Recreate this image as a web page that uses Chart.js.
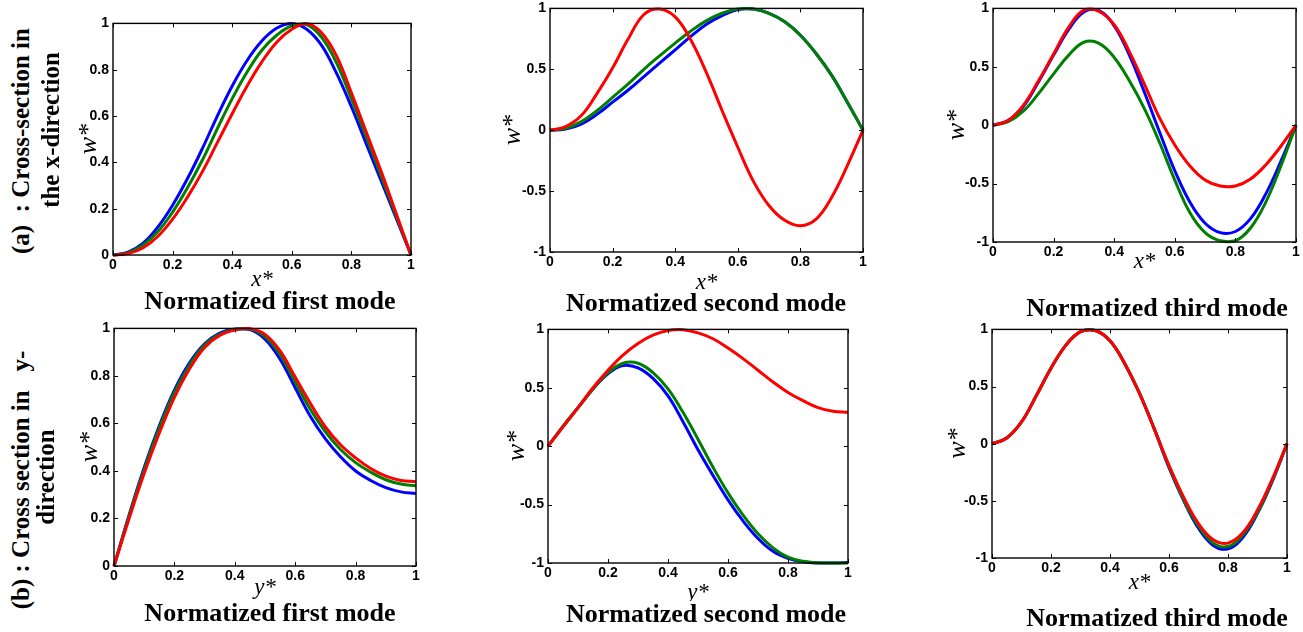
<!DOCTYPE html>
<html>
<head>
<meta charset="utf-8">
<script src="https://cdn.jsdelivr.net/npm/chart.js@4.4.1/dist/chart.umd.min.js"></script>
<style>
  html, body { margin: 0; padding: 0; background: #fff; overflow: hidden; }
  #page { position: relative; width: 1303px; height: 632px; overflow: hidden; }
  .panel { position: absolute; }
  .mode { position: absolute; font: bold 26px "Liberation Serif", "Times New Roman", serif; line-height: 26px;
          white-space: nowrap; transform: translateX(-50%); background: #fff; color: #000; }
  .row { position: absolute; font: bold 25px "Liberation Serif", "Times New Roman", serif; line-height: 25px;
         white-space: pre; transform: translate(-50%, -50%) rotate(-90deg); color: #000; }
</style>
</head>
<body>
<div id="page"></div>
<script>
// sample positions along the normalized coordinate
const xs = [0, 0.05, 0.1, 0.15, 0.2, 0.25, 0.3, 0.35, 0.4, 0.45, 0.5, 0.55, 0.6, 0.65, 0.7, 0.75, 0.8, 0.85, 0.9, 0.95, 1];

// tick labels
const xTicks = [0, 0.2, 0.4, 0.6, 0.8, 1];
const yTicksPos = [0, 0.2, 0.4, 0.6, 0.8, 1];
const yTicksSym = [-1, -0.5, 0, 0.5, 1];

// (a) x-direction, first mode
const a1Blue  = [0, 0.012, 0.05, 0.12, 0.215, 0.33, 0.46, 0.6, 0.73, 0.84, 0.925, 0.98, 1.0, 0.975, 0.905, 0.785, 0.64, 0.48, 0.32, 0.16, 0];
const a1Green = [0, 0.009, 0.042, 0.1, 0.185, 0.29, 0.41, 0.545, 0.675, 0.79, 0.885, 0.95, 0.99, 0.995, 0.94, 0.83, 0.675, 0.51, 0.34, 0.17, 0];
const a1Red   = [0, 0.006, 0.03, 0.08, 0.155, 0.25, 0.36, 0.485, 0.61, 0.73, 0.835, 0.92, 0.975, 1.0, 0.96, 0.86, 0.7, 0.53, 0.36, 0.18, 0];

// (a) x-direction, second mode
const a2Blue  = [0, 0.01, 0.05, 0.13, 0.23, 0.33, 0.44, 0.55, 0.66, 0.77, 0.87, 0.94, 0.99, 0.995, 0.96, 0.89, 0.78, 0.63, 0.45, 0.23, 0];
const a2Green = [0, 0.015, 0.07, 0.16, 0.27, 0.38, 0.5, 0.61, 0.715, 0.815, 0.9, 0.96, 0.995, 0.995, 0.96, 0.89, 0.78, 0.63, 0.45, 0.23, 0];
const a2Red   = [0, 0.03, 0.12, 0.3, 0.51, 0.75, 0.95, 0.995, 0.93, 0.74, 0.47, 0.16, -0.14, -0.42, -0.62, -0.74, -0.785, -0.73, -0.55, -0.29, 0];

// (a) x-direction, third mode
const a3Blue  = [0, 0.04, 0.16, 0.37, 0.6, 0.82, 0.97, 0.98, 0.85, 0.6, 0.28, -0.06, -0.39, -0.66, -0.84, -0.92, -0.91, -0.8, -0.59, -0.31, 0];
const a3Green = [0, 0.03, 0.12, 0.27, 0.44, 0.6, 0.71, 0.7, 0.58, 0.38, 0.14, -0.15, -0.47, -0.75, -0.92, -0.99, -0.99, -0.88, -0.66, -0.35, 0];
const a3Red   = [0, 0.04, 0.17, 0.38, 0.61, 0.84, 0.985, 0.975, 0.86, 0.63, 0.35, 0.06, -0.17, -0.35, -0.47, -0.52, -0.52, -0.46, -0.34, -0.18, 0];

// (b) y-direction, first mode
const b1Blue  = [0, 0.215, 0.415, 0.59, 0.74, 0.855, 0.935, 0.98, 0.998, 0.995, 0.955, 0.87, 0.75, 0.63, 0.535, 0.46, 0.4, 0.36, 0.33, 0.312, 0.305];
const b1Green = [0, 0.21, 0.405, 0.58, 0.73, 0.845, 0.93, 0.975, 0.995, 0.998, 0.965, 0.89, 0.775, 0.66, 0.565, 0.49, 0.435, 0.395, 0.363, 0.345, 0.338];
const b1Red   = [0, 0.2, 0.39, 0.56, 0.71, 0.83, 0.92, 0.97, 0.993, 0.999, 0.975, 0.905, 0.795, 0.685, 0.585, 0.51, 0.455, 0.41, 0.378, 0.36, 0.355];

// (b) y-direction, second mode
const b2Blue  = [0, 0.17, 0.33, 0.49, 0.62, 0.69, 0.67, 0.58, 0.43, 0.21, -0.03, -0.25, -0.46, -0.64, -0.79, -0.9, -0.96, -0.99, -1.0, -1.0, -0.995];
const b2Green = [0, 0.17, 0.33, 0.49, 0.63, 0.71, 0.71, 0.63, 0.49, 0.29, 0.06, -0.18, -0.4, -0.59, -0.75, -0.87, -0.95, -0.985, -0.998, -1.0, -1.0];
const b2Red   = [0, 0.165, 0.33, 0.5, 0.65, 0.78, 0.88, 0.95, 0.99, 0.998, 0.97, 0.92, 0.84, 0.75, 0.65, 0.55, 0.46, 0.39, 0.33, 0.3, 0.29];

// (b) y-direction, third mode
const b3Blue  = [0, 0.05, 0.19, 0.42, 0.66, 0.86, 0.98, 0.99, 0.9, 0.7, 0.44, 0.13, -0.21, -0.5, -0.74, -0.89, -0.92, -0.82, -0.61, -0.33, 0];
const b3Green = [0, 0.05, 0.19, 0.42, 0.66, 0.86, 0.98, 0.99, 0.9, 0.7, 0.44, 0.13, -0.2, -0.49, -0.72, -0.87, -0.9, -0.8, -0.6, -0.32, 0];
const b3Red   = [0, 0.05, 0.19, 0.42, 0.66, 0.86, 0.98, 0.99, 0.9, 0.7, 0.44, 0.13, -0.19, -0.47, -0.7, -0.84, -0.87, -0.78, -0.58, -0.31, 0];

const modeTitles = ['Normatized first mode', 'Normatized second mode', 'Normatized third mode'];
const rowTitles = [['(a)  : Cross-section in', 'the x-direction'], ['(b) : Cross section in   y-', 'direction']];

// layout: plot box [left, top, right, bottom], gaps of axis titles from the box
const panels = [
  { box: [113, 21, 411, 255], yTicks: yTicksPos, xLabel: 'x*', wGap: 24, xGap: 25, lines: [a1Blue, a1Green, a1Red] },
  { box: [550, 6, 863, 252],  yTicks: yTicksSym, xLabel: 'x*', wGap: 37, xGap: 31, lines: [a2Blue, a2Green, a2Red] },
  { box: [993, 6, 1296, 242], yTicks: yTicksSym, xLabel: 'x*', wGap: 36, xGap: 20, lines: [a3Blue, a3Green, a3Red] },
  { box: [114, 326, 416, 566], yTicks: yTicksPos, xLabel: 'y*', wGap: 24, xGap: 22, lines: [b1Blue, b1Green, b1Red] },
  { box: [548, 327, 848, 563], yTicks: yTicksSym, xLabel: 'y*', wGap: 31, xGap: 30, lines: [b2Blue, b2Green, b2Red] },
  { box: [992, 327, 1287, 558], yTicks: yTicksSym, xLabel: 'x*', wGap: 34, xGap: 25, lines: [b3Blue, b3Green, b3Red] }
];
const titlePos = [[270, 310], [706, 312], [1157, 317], [270, 622], [706, 623], [1157, 627]];
const rowPos = [[[20, 141], [50, 130]], [[20, 480], [45, 477]]];

const colors = ['#0000ff', '#008000', '#ff0000'];
const YW = 50, XH = 50, PT = 10, PR = 14;
const tickFont = { family: '"Liberation Sans", Arial, sans-serif', size: 14, weight: 'bold' };
const fmt = v => String(Math.round(v * 100) / 100);

// box round the plot and inward tick marks on all four sides
const boxTicks = {
  id: 'boxTicks',
  afterDatasetsDraw(chart) {
    const { ctx, chartArea: a, scales: { x, y } } = chart;
    ctx.save();
    ctx.strokeStyle = '#000';
    ctx.lineWidth = 1;
    ctx.beginPath();
    x.ticks.forEach(t => {
      const px = Math.round(x.getPixelForValue(t.value)) + 0.5;
      ctx.moveTo(px, a.bottom); ctx.lineTo(px, a.bottom - 4);
      ctx.moveTo(px, a.top); ctx.lineTo(px, a.top + 4);
    });
    y.ticks.forEach(t => {
      const py = Math.round(y.getPixelForValue(t.value)) + 0.5;
      ctx.moveTo(a.left, py); ctx.lineTo(a.left + 4, py);
      ctx.moveTo(a.right, py); ctx.lineTo(a.right - 4, py);
    });
    ctx.stroke();
    ctx.lineWidth = 1.4;
    ctx.strokeRect(a.left, a.top, a.right - a.left, a.bottom - a.top);
    ctx.restore();
  }
};

const page = document.getElementById('page');
const pts = ys => xs.map((x, i) => ({ x: x, y: ys[i] }));

panels.forEach(p => {
  const [l, t, r, b] = p.box;
  const w = r - l + YW + PR, h = b - t + PT + XH;
  const div = document.createElement('div');
  div.className = 'panel';
  div.style.left = (l - YW) + 'px';
  div.style.top = (t - PT) + 'px';
  const cv = document.createElement('canvas');
  cv.width = w; cv.height = h;
  cv.style.width = w + 'px'; cv.style.height = h + 'px';
  div.appendChild(cv);
  page.appendChild(div);

  new Chart(cv.getContext('2d'), {
    type: 'line',
    data: {
      datasets: p.lines.map((ys, i) => ({
        data: pts(ys),
        borderColor: colors[i],
        borderWidth: 3,
        pointRadius: 0,
        fill: false,
        clip: false,
        tension: 0.4,
        order: 2 - i
      }))
    },
    options: {
      responsive: false,
      animation: false,
      devicePixelRatio: 1,
      layout: { padding: { left: 0, top: PT, right: PR, bottom: 0 } },
      plugins: { legend: { display: false }, tooltip: { enabled: false } },
      scales: {
        x: {
          type: 'linear', min: 0, max: 1,
          afterBuildTicks: s => { s.ticks = xTicks.map(v => ({ value: v })); },
          afterFit: s => { s.height = XH; },
          grid: { display: false, drawTicks: false },
          border: { display: false },
          ticks: { padding: 2, color: '#000', font: tickFont, maxRotation: 0, autoSkip: false, callback: fmt },
          title: {
            display: true, text: p.xLabel, color: '#000',
            font: { family: '"Liberation Serif", serif', size: 23, style: 'italic', lineHeight: 1 },
            padding: { top: 0, bottom: 38.5 - p.xGap }
          }
        },
        y: {
          type: 'linear', min: p.yTicks[0], max: p.yTicks[p.yTicks.length - 1],
          afterBuildTicks: s => { s.ticks = p.yTicks.map(v => ({ value: v })); },
          afterFit: s => { s.width = YW; },
          grid: { display: false, drawTicks: false },
          border: { display: false },
          ticks: { padding: 4, color: '#000', font: tickFont, autoSkip: false, callback: fmt },
          title: {
            display: true, text: 'w*', color: '#000',
            font: { family: '"Liberation Serif", serif', size: 26, style: 'italic', lineHeight: 1 },
            padding: { top: 37 - p.wGap, bottom: 0 }
          }
        }
      }
    },
    plugins: [boxTicks]
  });
});

titlePos.forEach((pos, i) => {
  const d = document.createElement('div');
  d.className = 'mode';
  d.textContent = modeTitles[i % 3];
  d.style.left = pos[0] + 'px';
  d.style.top = (pos[1] - 22) + 'px';
  page.appendChild(d);
});

rowTitles.forEach((lines, r) => {
  lines.forEach((txt, k) => {
    const d = document.createElement('div');
    d.className = 'row';
    d.textContent = txt;
    d.style.left = rowPos[r][k][0] + 'px';
    d.style.top = rowPos[r][k][1] + 'px';
    page.appendChild(d);
  });
});
</script>
</body>
</html>
